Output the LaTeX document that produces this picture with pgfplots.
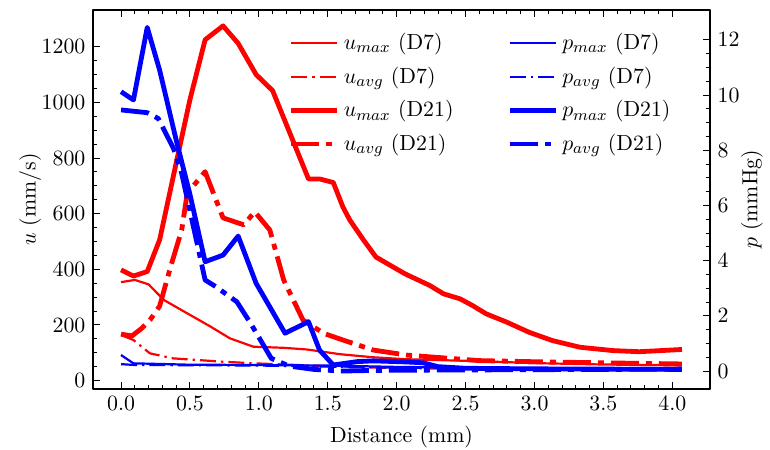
\documentclass[border=0pt,11pt]{standalone}
\usepackage{pgfplots}
\pgfplotsset{compat=1.18}
\begin{document}
\begin{tikzpicture}
\pgfplotsset{
  common/.style={
    width=308.5bp, height=189.5bp, scale only axis,
    at={(0,0)}, anchor=south west,
    xmin=-0.2035, xmax=4.2735,
    tick align=inside,
    major tick length=3.5bp, minor tick length=2bp,
    every tick/.style={black, line width=0.5pt},
    axis line style={line width=0.6pt},
    line join=round,
    /pgf/number format/1000 sep={},
  },
  thinl/.style={line width=1.1bp},
  thickl/.style={line width=2.4bp},
  thindd/.style={line width=1.1bp, dash pattern=on 8bp off 2.5bp on 1.2bp off 2.5bp},
  thickdd/.style={line width=2.4bp, dash pattern=on 14bp off 3.5bp on 3bp off 3.5bp},
}
\begin{axis}[common,
  ymin=-30, ymax=1332,
  xtick={0,0.5,...,4}, minor x tick num=4,
  ytick={0,200,...,1200}, minor y tick num=3,
  xtick pos=both, ytick pos=left,
  xticklabel style={/pgf/number format/.cd, fixed, fixed zerofill, precision=1},
  xlabel={Distance (mm)}, ylabel={$u$ (mm/s)},
  ylabel style={at={(axis description cs:-0.102,0.5)}, anchor=center},
  legend columns=2,
  legend cell align=left,
  legend image code/.code={\draw[#1] (0bp,0bp) -- (23bp,0bp);},
  legend style={at={(0.317,0.95)}, anchor=north west, draw=none, fill=none,
    inner sep=0pt, row sep=3bp,
    /tikz/every even column/.append style={column sep=25bp}},
]
\addplot[red, thinl, no marks] coordinates {
(0,354) (0.1,362) (0.2,346) (0.31,290) (0.48,242) (0.65,194) (0.79,152) (0.96,122) (1.18,118) (1.35,112) (1.59,95) (1.83,84) (2.07,77) (2.6,70) (3.0,63) (3.5,58) (4.07,55)};
\addlegendimage{blue, thinl}
\addplot[red, thindd, no marks] coordinates {
(0,164) (0.09,146) (0.21,98) (0.38,80) (0.74,68) (0.98,62) (1.5,52) (2.0,45) (3.0,40) (4.07,38)};
\addlegendimage{blue, thindd}
\addplot[red, thickl, no marks] coordinates {
(0,398) (0.09,376) (0.19,392) (0.28,506) (0.41,805) (0.5,1010) (0.61,1225) (0.74,1275) (0.85,1212) (0.98,1100) (1.1,1042) (1.36,725) (1.44,725) (1.54,712) (1.61,624) (1.66,577) (1.76,505) (1.85,444) (2.06,384) (2.24,342) (2.34,312) (2.46,294) (2.55,270) (2.65,240) (2.8,210) (2.96,174) (3.13,144) (3.33,120) (3.57,108) (3.76,104) (4.07,112)};
\addlegendimage{blue, thickl}
\addplot[red, thickdd, no marks] coordinates {
(0,167) (0.08,161) (0.15,188) (0.21,218) (0.28,268) (0.36,410) (0.44,541) (0.48,673) (0.61,751) (0.68,661) (0.74,585) (0.89,560) (0.97,607) (1.08,541) (1.18,362) (1.32,218) (1.47,170) (1.61,146) (1.83,110) (2.07,92) (2.6,72) (3.0,68) (3.5,64) (4.07,60)};
\addlegendimage{blue, thickdd}
\legend{$u_{max}$ (D7), $p_{max}$ (D7), $u_{avg}$ (D7), $p_{avg}$ (D7), $u_{max}$ (D21), $p_{max}$ (D21), $u_{avg}$ (D21), $p_{avg}$ (D21)}
\end{axis}
\begin{axis}[common,
  ymin=-0.65, ymax=13.08,
  hide x axis,
  ytick={0,2,...,12}, minor y tick num=3,
  ytick pos=right, yticklabel pos=right,
  ylabel={$p$ (mmHg)},
  ylabel style={at={(axis description cs:1.068,0.5)}, anchor=center},
]
\addplot[blue, thinl, no marks] coordinates {
(0,0.58) (0.09,0.28) (0.5,0.23) (1.0,0.22) (1.5,0.2) (2.0,0.15) (3.0,0.1) (4.07,0.08)};
\addplot[blue, thindd, no marks] coordinates {
(0,0.25) (0.1,0.22) (1.0,0.2) (2.0,0.12) (4.07,0.08)};
\addplot[blue, thickl, no marks] coordinates {
(0,10.12) (0.09,9.82) (0.19,12.45) (0.28,10.9) (0.40,8.37) (0.5,6.4) (0.61,3.96) (0.74,4.2) (0.85,4.89) (0.98,3.18) (1.19,1.37) (1.36,1.79) (1.44,0.76) (1.54,0.22) (1.71,0.34) (1.83,0.37) (2.07,0.33) (2.19,0.3) (2.3,0.16) (2.5,0.1) (3.0,0.08) (4.07,0.06)};
\addplot[blue, thickdd, no marks] coordinates {
(0,9.46) (0.19,9.36) (0.27,9.15) (0.38,8.07) (0.44,7.16) (0.5,5.8) (0.61,3.3) (0.69,3.05) (0.84,2.51) (0.94,1.73) (1.09,0.46) (1.22,0.18) (1.4,0.06) (1.6,0.0) (1.8,0.02) (2.0,0.03) (3.0,0.05) (4.07,0.07)};
\end{axis}
\pgfresetboundingbox
\path (-46.5bp,-30.5bp) rectangle (338.5bp,194.5bp);
\end{tikzpicture}
\end{document}
